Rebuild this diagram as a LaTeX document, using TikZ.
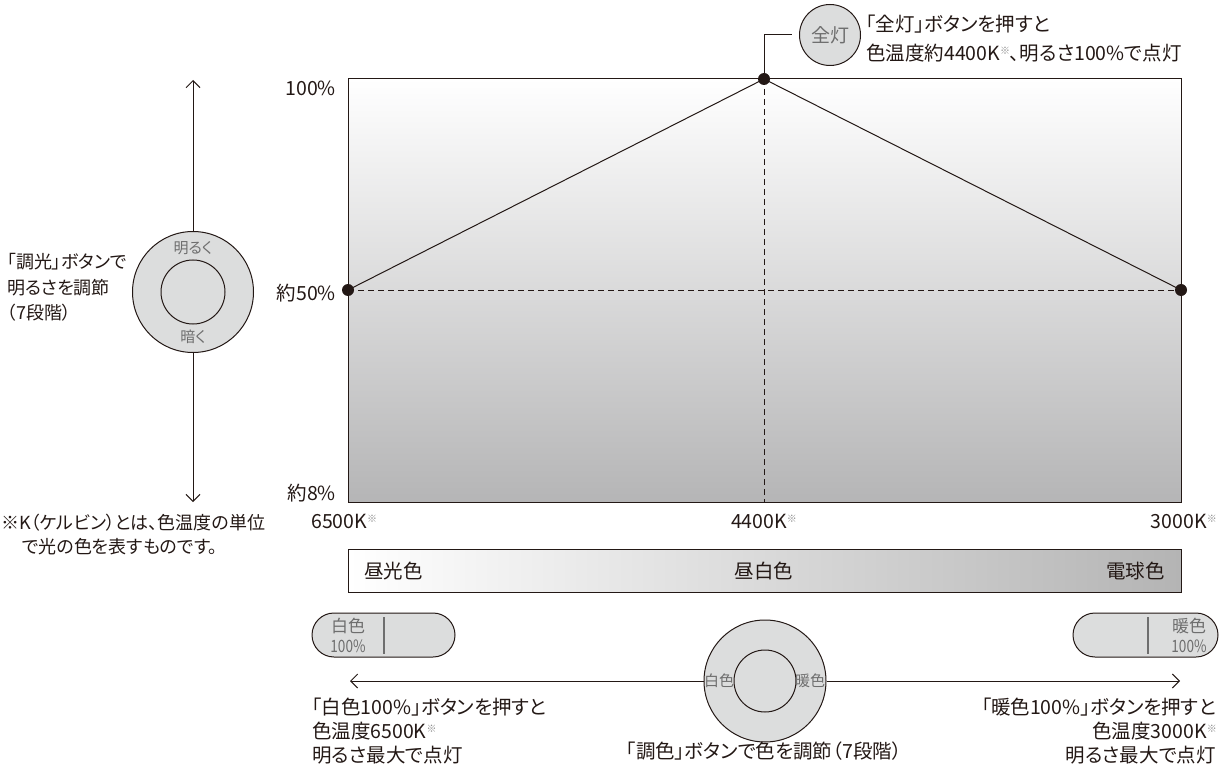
\documentclass[tikz,border=0pt]{standalone}
\usepackage{fontspec}
\setmainfont{Noto Sans CJK JP}[RawFeature={+palt}]
\usetikzlibrary{arrows.meta,shapes.misc}
\definecolor{ink}{HTML}{231815}
\definecolor{btn}{HTML}{DCDDDD}
\definecolor{btntext}{HTML}{6E6E6E}
\definecolor{kometext}{HTML}{8A8A8A}
\definecolor{chartbot}{HTML}{B5B5B6}
\definecolor{barend}{HTML}{B4B4B4}
\newcommand{\kome}{\raisebox{0.55ex}{\fontsize{10}{10}\selectfont\color{kometext}※}}
\begin{document}
\begin{tikzpicture}[x=1pt,y=-1pt,
  lbl/.style={font=\fontsize{19.5}{22}\selectfont, text=ink, inner sep=0pt},
  lbls/.style={font=\fontsize{18}{22}\selectfont, text=ink, inner sep=0pt},
  foot/.style={font=\fontsize{18}{20}\selectfont, text=ink, inner sep=0pt},
  small/.style={font=\fontsize{15}{16}\selectfont, text=btntext, inner sep=0pt},
  pct/.style={font=\fontsize{17}{18}\selectfont, text=btntext, inner sep=0pt, xscale=0.8},
  dot/.style={circle, fill=ink, minimum size=12pt, inner sep=0pt},
  ln/.style={draw=ink, line width=1pt},
  dsh/.style={ln, dash pattern=on 6pt off 4pt},
  arr/.style={ln, -{Straight Barb[length=7pt,width=14pt,line width=1pt]}},
  dial/.style={circle, draw=ink, line width=1pt, fill=btn, inner sep=0pt},
  ring/.style={circle, draw=ink, line width=1pt, inner sep=0pt},
  pill/.style={rounded rectangle, draw=ink, line width=1pt, fill=btn, inner sep=0pt, minimum height=44pt},
  divider/.style={draw=btntext, line width=1.4pt}
]
\useasboundingbox (0,0) rectangle (1229,770);

% ---- chart ----
\coordinate (tl) at (348,79);
\coordinate (br) at (1181,502);
\shade[top color=white, bottom color=chartbot] (tl) rectangle (br);
\draw[ln] (tl) rectangle (br);

\coordinate (pL) at (348,290);
\coordinate (pT) at (764,79);
\coordinate (pR) at (1181,290);
\coordinate (pB) at (764,502);
\draw[dsh] (pL) -- (pR);
\draw[dsh] (pT) -- (pB);
\draw[ln] (pL) -- (pT) -- (pR);
\node[dot] (dL) at (pL) {};
\node[dot] (dT) at (pT) {};
\node[dot] (dR) at (pR) {};

% ---- full-light button ----
\node[dial, minimum size=61pt, font=\fontsize{19}{20}\selectfont, text=btntext] (zen) at (830,35) {全灯};
\coordinate (lead) at (792,35);
\draw[ln] (dT.center) |- (lead);
\node[lbl, anchor=west] (zt1) at (866,24) {「全灯」ボタンを押すと};
\node[lbl, anchor=west] (zt2) at (866,53) {色温度約4400K\kome、明るさ100\%で点灯};

% ---- axis labels ----
\node[lbl, anchor=east] (y100) at (336,88) {100\%};
\node[lbl, anchor=east] (y50) at (336,293) {約50\%};
\node[lbl, anchor=east] (y8) at (336,493) {約8\%};
\node[lbl, anchor=west] (x65) at (311,521) {6500K\kome};
\node[lbl] (x44) at (764,521) {4400K\kome};
\node[lbl, anchor=east] (x30) at (1217,521) {3000K\kome};

% ---- dimmer dial ----
\coordinate (upT) at (193,80);
\coordinate (dnT) at (193,502);
\node[dial, minimum size=121pt] (dimO) at (193,292) {};
\node[ring, minimum size=64pt] (dimI) at (193,292) {};
\draw[arr] (dimO.north) -- (upT);
\draw[arr] (dimO.south) -- (dnT);
\node[small] (br1) at (193,248) {明るく};
\node[small] (br2) at (193,337) {暗く};
\node[lbls, anchor=west] (dm1) at (7,262) {「調光」ボタンで};
\node[lbls, anchor=west] (dm2) at (7,288) {明るさを調節};
\node[lbls, anchor=west] (dm3) at (7,313) {（7段階）};

% ---- footnote ----
\node[foot, anchor=west] (fn1) at (1,523) {※K（ケルビン）とは、色温度の単位};
\node[foot, anchor=west] (fn2) at (22,547) {で光の色を表すものです。};

% ---- colour bar ----
\coordinate (cbtl) at (348,549);
\coordinate (cbbr) at (1181,592);
\shade[left color=white, right color=barend] (cbtl) rectangle (cbbr);
\draw[ln] (cbtl) rectangle (cbbr);
\node[lbl, anchor=west] (c1) at (364,571) {昼光色};
\node[lbl] (c2) at (764,571) {昼白色};
\node[lbl, anchor=east] (c3) at (1165,571) {電球色};

% ---- white / warm buttons ----
\node[pill, minimum width=143pt] (wb) at (383.5,635) {};
\draw[divider] (384,617) -- (384,654);
\node[small, font=\fontsize{17}{18}\selectfont] (wb1) at (348,626) {白色};
\node[pct] (wb2) at (348,646) {100\%};

\node[pill, minimum width=145pt] (kb) at (1145.5,635) {};
\draw[divider] (1148,617) -- (1148,654);
\node[small, font=\fontsize{17}{18}\selectfont] (kb1) at (1189,626) {暖色};
\node[pct] (kb2) at (1189,646) {100\%};

% ---- colour dial ----
\coordinate (lT) at (350,681);
\coordinate (rT) at (1180,681);
\node[dial, minimum size=122pt] (colO) at (765,681) {};
\node[ring, minimum size=62pt] (colI) at (765,681) {};
\draw[arr] (colO.west) -- (lT);
\draw[arr] (colO.east) -- (rT);
\node[small] (cw) at (719,681) {白色};
\node[small] (cc) at (810,681) {暖色};
\node[lbl] (cap) at (764,751) {「調色」ボタンで色を調節（7段階）};

% ---- bottom captions ----
\node[lbl, anchor=west] (bl1) at (312,707) {「白色100\%」ボタンを押すと};
\node[lbl, anchor=west] (bl2) at (312,731) {色温度6500K\kome};
\node[lbl, anchor=west] (bl3) at (312,755) {明るさ最大で点灯};
\node[lbl, anchor=east] (brr1) at (1216,707) {「暖色100\%」ボタンを押すと};
\node[lbl, anchor=east] (brr2) at (1217,731) {色温度3000K\kome};
\node[lbl, anchor=east] (brr3) at (1216,755) {明るさ最大で点灯};
\end{tikzpicture}
\end{document}
